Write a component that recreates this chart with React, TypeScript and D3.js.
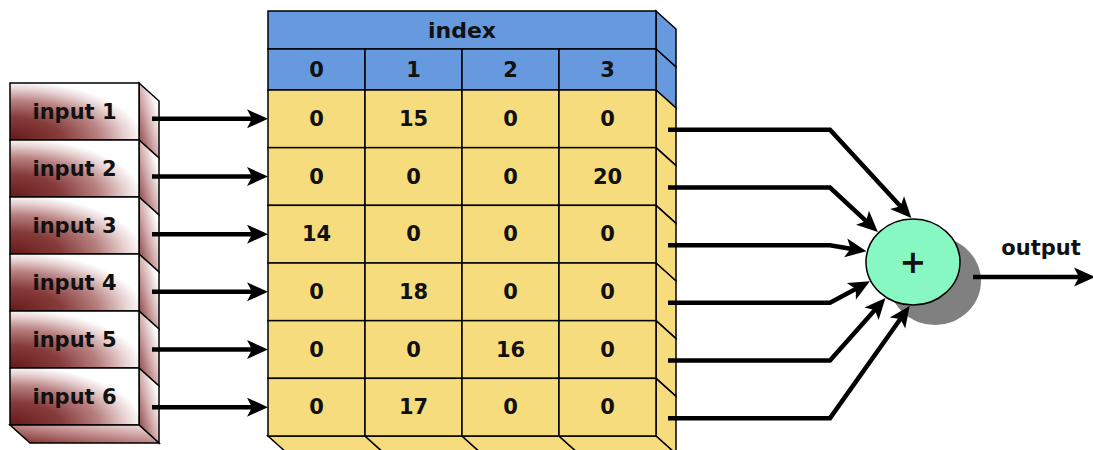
import React from "react";
import * as d3 from "d3";

// ---- data ----
const inputLabels: string[] = ["input 1", "input 2", "input 3", "input 4", "input 5", "input 6"];
const indexLabels: string[] = ["0", "1", "2", "3"];
const headerTitle = "index";
const row1: number[] = [0, 15, 0, 0];
const row2: number[] = [0, 0, 0, 20];
const row3: number[] = [14, 0, 0, 0];
const row4: number[] = [0, 18, 0, 0];
const row5: number[] = [0, 0, 16, 0];
const row6: number[] = [0, 17, 0, 0];
const cellRows: number[][] = [row1, row2, row3, row4, row5, row6];
const sumSymbol = "+";
const outputLabel = "output";
// angle (degrees) at which each row's connector meets the adder
const entryAngles: number[] = [-92, -137, -166, 154, 125, 94];

// ---- layout ----
const W = 1093;
const H = 450;
const DX = 20;
const DY = 18;
const FONT = "'DejaVu Sans', Verdana, sans-serif";
const BLUE = "#6699dd";
const YELLOW = "#f6dc7c";

const tableLeft = 268;
const tableRight = 656;
const headTop = 11;
const headMid = 49;
const dataTop = 90;
const dataBottom = 436;

const inLeft = 10;
const inRight = 139;

const xCol = d3.scaleBand<string>().domain(indexLabels).range([tableLeft, tableRight]);
const yRow = d3.scaleBand<string>().domain(inputLabels).range([dataTop, dataBottom]);
const yIn = d3.scaleBand<string>().domain(inputLabels).range([83, 425]);

const adder = { cx: 913, cy: 262, rx: 47, ry: 43 };
const bendX = 830;
const ARROW_W = 4.5;

function arrow(x1: number, y1: number, x2: number, y2: number, len = 21, half = 9.5) {
  const a = Math.atan2(y2 - y1, x2 - x1);
  const ux = Math.cos(a), uy = Math.sin(a);
  const nx = -uy, ny = ux;
  const bx = x2 - len * ux, by = y2 - len * uy;
  const head = [
    [x2, y2],
    [bx + half * nx, by + half * ny],
    [x2 - (len - 5) * ux, y2 - (len - 5) * uy],
    [bx - half * nx, by - half * ny],
  ];
  const end = [x2 - (len - 8) * ux, y2 - (len - 8) * uy];
  return { head: "M" + head.map((p) => p.join(",")).join("L") + "Z", end };
}

const poly = (pts: number[][]) => pts.map((p) => p.join(",")).join(" ");

export default function App() {
  const line = d3.line<number[]>().x((d) => d[0]).y((d) => d[1]);
  const bw = yRow.bandwidth();
  const ibw = yIn.bandwidth();

  const sideRows: { top: number; bottom: number; fill: string }[] = [
    { top: headTop, bottom: headMid, fill: BLUE },
    { top: headMid, bottom: dataTop, fill: BLUE },
    ...inputLabels.map((l) => ({ top: yRow(l)!, bottom: yRow(l)! + bw, fill: YELLOW })),
  ];

  return (
    <svg
      width={W}
      height={H}
      style={{ position: "absolute", left: 0, top: 0, background: "#fff" }}
      fontFamily={FONT}
    >
      <defs>
        <radialGradient id="inGrad" cx="0" cy="1" r="1.15" fx="0" fy="1">
          <stop offset="0" stopColor="#651818" />
          <stop offset="0.35" stopColor="#873c3c" />
          <stop offset="0.6" stopColor="#b88080" />
          <stop offset="0.78" stopColor="#e8d2d2" />
          <stop offset="0.9" stopColor="#ffffff" />
        </radialGradient>
        <linearGradient id="sideGrad" x1="0" y1="1" x2="1" y2="0">
          <stop offset="0" stopColor="#7a2a2a" />
          <stop offset="0.45" stopColor="#d0a8a8" />
          <stop offset="0.8" stopColor="#ffffff" />
        </linearGradient>
        <linearGradient id="bottomGrad" x1="0" y1="1" x2="1" y2="0">
          <stop offset="0" stopColor="#7a2a2a" />
          <stop offset="0.5" stopColor="#c08888" />
          <stop offset="1" stopColor="#f4e8e8" />
        </linearGradient>
      </defs>

      {/* input boxes */}
      {inputLabels.map((l) => {
        const y0 = yIn(l)!;
        const y1 = y0 + ibw;
        return (
          <g key={l}>
            <polygon
              points={poly([[inRight, y0], [inRight + DX, y0 + DY], [inRight + DX, y1 + DY], [inRight, y1]])}
              fill="url(#sideGrad)"
              stroke="#000"
              strokeWidth={1.5}
            />
            <rect x={inLeft} y={y0} width={inRight - inLeft} height={ibw} fill="url(#inGrad)" stroke="#000" strokeWidth={1.5} />
            <text
              x={(inLeft + inRight) / 2}
              y={y0 + ibw / 2}
              textAnchor="middle"
              dominantBaseline="central"
              fontWeight="bold"
              fontSize={21}
              fill="#111"
            >
              {l}
            </text>
          </g>
        );
      })}
      {(() => {
        const yb = yIn(inputLabels[inputLabels.length - 1])! + ibw;
        return (
          <polygon
            points={poly([[inLeft, yb], [inRight, yb], [inRight + DX, yb + DY], [inLeft + DX, yb + DY]])}
            fill="url(#bottomGrad)"
            stroke="#000"
            strokeWidth={1.5}
          />
        );
      })()}

      {/* table right face */}
      {sideRows.map((r, i) => (
        <polygon
          key={"side" + i}
          points={poly([[tableRight, r.top], [tableRight + DX, r.top + DY], [tableRight + DX, r.bottom + DY], [tableRight, r.bottom]])}
          fill={r.fill}
          stroke="#000"
          strokeWidth={1.5}
        />
      ))}
      {/* table bottom face */}
      {indexLabels.map((c) => {
        const x0 = xCol(c)!;
        const x1 = x0 + xCol.bandwidth();
        return (
          <polygon
            key={"bot" + c}
            points={poly([[x0, dataBottom], [x1, dataBottom], [x1 + DX, dataBottom + DY], [x0 + DX, dataBottom + DY]])}
            fill={YELLOW}
            stroke="#000"
            strokeWidth={1.5}
          />
        );
      })}

      {/* header */}
      <rect x={tableLeft} y={headTop} width={tableRight - tableLeft} height={headMid - headTop} fill={BLUE} stroke="#000" strokeWidth={1.5} />
      <text
        x={(tableLeft + tableRight) / 2}
        y={(headTop + headMid) / 2}
        textAnchor="middle"
        dominantBaseline="central"
        fontWeight="bold"
        fontSize={22}
        fill="#111"
      >
        {headerTitle}
      </text>
      {indexLabels.map((c) => (
        <g key={"h" + c}>
          <rect x={xCol(c)!} y={headMid} width={xCol.bandwidth()} height={dataTop - headMid} fill={BLUE} stroke="#000" strokeWidth={1.5} />
          <text
            x={xCol(c)! + xCol.bandwidth() / 2}
            y={(headMid + dataTop) / 2}
            textAnchor="middle"
            dominantBaseline="central"
            fontWeight="bold"
            fontSize={21}
            fill="#111"
          >
            {c}
          </text>
        </g>
      ))}

      {/* cells */}
      {inputLabels.map((l, ri) =>
        indexLabels.map((c, ci) => (
          <g key={l + c}>
            <rect x={xCol(c)!} y={yRow(l)!} width={xCol.bandwidth()} height={bw} fill={YELLOW} stroke="#000" strokeWidth={1.5} />
            <text
              x={xCol(c)! + xCol.bandwidth() / 2}
              y={yRow(l)! + bw / 2}
              textAnchor="middle"
              dominantBaseline="central"
              fontWeight="bold"
              fontSize={21}
              fill="#111"
            >
              {cellRows[ri][ci]}
            </text>
          </g>
        ))
      )}

      {/* input arrows */}
      {inputLabels.map((l) => {
        const y = yRow(l)! + bw / 2;
        const a = arrow(152, y, tableLeft, y);
        return (
          <g key={"ia" + l}>
            <path d={line([[152, y], a.end])!} stroke="#000" strokeWidth={ARROW_W} fill="none" />
            <path d={a.head} fill="#000" />
          </g>
        );
      })}

      {/* adder shadow */}
      <ellipse cx={adder.cx + 22} cy={adder.cy + 19} rx={46} ry={44} fill="#808080" />

      {/* output connectors */}
      {inputLabels.map((l, i) => {
        const y = yRow(l)! + bw / 2 + 11;
        const ang = (entryAngles[i] * Math.PI) / 180;
        const tx = adder.cx + (adder.rx + 1) * Math.cos(ang);
        const ty = adder.cy + (adder.ry + 1) * Math.sin(ang);
        const a = arrow(bendX, y, tx, ty);
        return (
          <g key={"oc" + l}>
            <path d={line([[668, y], [bendX, y], a.end])!} stroke="#000" strokeWidth={ARROW_W} fill="none" strokeLinejoin="miter" />
            <path d={a.head} fill="#000" />
          </g>
        );
      })}

      {/* adder */}
      <ellipse cx={adder.cx} cy={adder.cy} rx={adder.rx} ry={adder.ry} fill="#88f8c2" stroke="#000" strokeWidth={1.5} />
      <text x={adder.cx} y={adder.cy} textAnchor="middle" dominantBaseline="central" fontWeight="bold" fontSize={32} fill="#111">
        {sumSymbol}
      </text>

      {/* output */}
      {(() => {
        const a = arrow(973, 277, 1095, 277);
        return (
          <g>
            <path d={line([[973, 277], a.end])!} stroke="#000" strokeWidth={ARROW_W} fill="none" />
            <path d={a.head} fill="#000" />
          </g>
        );
      })()}
      <text x={1041} y={248} textAnchor="middle" dominantBaseline="central" fontWeight="bold" fontSize={21} fill="#111">
        {outputLabel}
      </text>
    </svg>
  );
}
